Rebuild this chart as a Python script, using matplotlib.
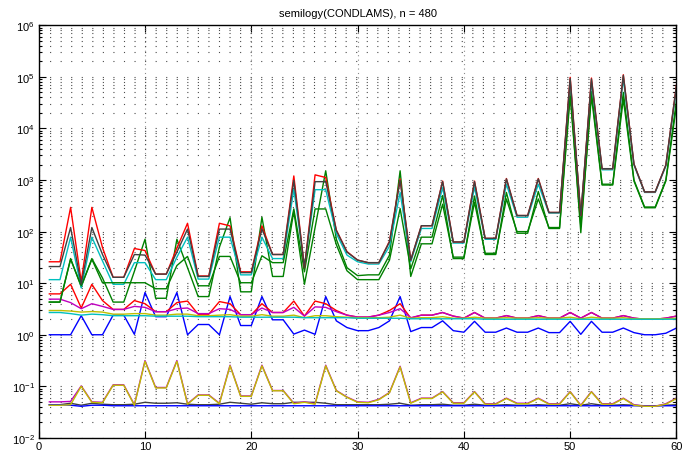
import numpy as np
import matplotlib
matplotlib.use('Agg')
import matplotlib.pyplot as plt
from matplotlib.ticker import LogLocator, NullFormatter

plt.rcParams['font.family'] = ['Liberation Sans', 'DejaVu Sans']

x = np.arange(1, 61)

# --- upper family (large condition numbers) ---
red_hi = [26, 26, 295, 10.7, 295, 49, 13, 13, 47, 43,
          15, 15, 48, 145, 13.8, 13.8, 145, 129, 16.6, 16.6,
          129, 36, 36, 1200, 20, 1260, 1120, 107, 41, 28,
          25, 25, 65, 1050, 28, 130, 130, 955, 63, 63,
          955, 74, 74, 1070, 205, 205, 1070, 235, 235, 98000,
          205, 95000, 1660, 1660, 110000, 2040, 590, 590, 1950, 69000]
black_hi = [21, 21, 120, 9.5, 120, 36, 13, 13, 36, 35,
            15, 15, 40, 112, 13.5, 13.5, 112, 112, 16, 16,
            112, 36, 36, 980, 20, 930, 930, 105, 40, 28,
            25, 25, 63, 980, 28, 130, 130, 930, 63, 63,
            930, 74, 74, 1050, 205, 205, 1050, 235, 235, 93000,
            205, 91000, 1660, 1660, 107000, 2040, 590, 590, 1950, 68000]
cyan_hi = [11.7, 11.7, 78, 8.1, 78, 27, 9.5, 9.5, 25, 25,
           11.7, 11.7, 32, 78, 12, 12, 78, 78, 14.5, 14.5,
           78, 30, 30, 660, 21, 650, 650, 91, 35, 26,
           23.5, 23.5, 52, 575, 26, 115, 115, 710, 60, 60,
           725, 71, 71, 830, 190, 190, 830, 229, 229, 79000,
           200, 79000, 1580, 1580, 91000, 1950, 575, 575, 1860, 60000]
green_a = [4.3, 4.3, 30, 8.5, 30, 12.6, 4.3, 4.3, 17, 71,
           5.1, 5.1, 71, 20, 5.5, 5.5, 50, 186, 6.8, 6.8,
           190, 13.5, 13.5, 250, 9.5, 120, 1510, 71, 20, 14,
           14.5, 14.5, 35, 1510, 13.5, 58, 58, 340, 32, 32,
           370, 38, 38, 430, 100, 100, 430, 120, 120, 56000,
           95, 52000, 830, 830, 50000, 1000, 300, 300, 1000, 35000]
green_b = [4.3, 4.3, 29, 8.9, 29, 10.2, 10.2, 10.2, 10.2, 10.2,
           7.8, 7.8, 22, 33, 8.9, 8.9, 33, 33, 10.2, 10.2,
           34, 25, 25, 275, 16.6, 275, 275, 56, 17.4, 11.7,
           11.7, 11.7, 28, 280, 19, 78, 78, 500, 30, 30,
           490, 36, 36, 575, 93, 93, 600, 115, 115, 42000,
           126, 42000, 800, 800, 37000, 955, 290, 290, 955, 28000]

# --- middle family (values around 1..10) ---
blue_mid = [1.0, 1.0, 1.0, 2.34, 1.0, 1.0, 2.4, 2.4, 1.02, 6.6,
            2.24, 2.24, 6.6, 1.0, 1.58, 1.58, 1.0, 5.5, 1.51, 1.51,
            5.5, 1.95, 1.95, 1.03, 1.23, 1.02, 5.5, 1.86, 1.38, 1.2,
            1.2, 1.38, 1.86, 5.5, 1.15, 1.38, 1.38, 1.86, 1.2, 1.12,
            1.82, 1.12, 1.12, 1.35, 1.12, 1.12, 1.35, 1.1, 1.1, 1.82,
            1.02, 1.82, 1.12, 1.12, 1.35, 1.1, 1.0, 1.0, 1.07, 1.35]
red_mid = [6.2, 6.2, 9.5, 3.3, 9.5, 4.6, 3.1, 3.1, 4.6, 4.0,
           2.8, 2.8, 4.2, 4.5, 2.5, 2.5, 4.4, 4.0, 2.45, 2.45,
           4.0, 2.7, 2.7, 4.5, 2.3, 4.5, 4.0, 2.95, 2.4, 2.2,
           2.2, 2.4, 2.95, 4.0, 2.1, 2.4, 2.4, 2.7, 2.3, 2.1,
           2.7, 2.1, 2.1, 2.35, 2.1, 2.1, 2.35, 2.1, 2.1, 2.7,
           2.1, 2.7, 2.1, 2.1, 2.35, 2.1, 2.0, 2.0, 2.1, 2.3]
magenta_mid = [4.9, 4.9, 4.2, 3.2, 4.0, 3.55, 3.1, 3.1, 3.55, 3.4,
               2.8, 2.8, 3.2, 3.3, 2.57, 2.57, 3.2, 3.1, 2.45, 2.45,
               3.3, 2.7, 2.7, 3.4, 2.3, 3.47, 3.4, 2.8, 2.4, 2.2,
               2.2, 2.4, 2.7, 3.2, 2.14, 2.4, 2.4, 2.7, 2.3, 2.1,
               2.7, 2.1, 2.1, 2.35, 2.1, 2.1, 2.35, 2.1, 2.1, 2.7,
               2.1, 2.7, 2.1, 2.1, 2.35, 2.1, 2.0, 2.0, 2.1, 2.3]
yellow_mid = [2.95, 2.95, 2.88, 2.75, 2.82, 2.75, 2.51, 2.51, 2.57, 2.57,
              2.40, 2.40, 2.51, 2.51, 2.34, 2.34, 2.40, 2.45, 2.29, 2.29,
              2.45, 2.29, 2.29, 2.40, 2.14, 2.34, 2.34, 2.24, 2.19, 2.14,
              2.14, 2.14, 2.19, 2.40, 2.09, 2.14, 2.14, 2.24, 2.09, 2.09,
              2.19, 2.09, 2.09, 2.14, 2.09, 2.09, 2.14, 2.09, 2.09, 2.19,
              2.04, 2.19, 2.09, 2.09, 2.14, 2.04, 2.04, 2.04, 2.04, 2.09]
cyan_mid = [2.7, 2.7, 2.57, 2.40, 2.51, 2.45, 2.34, 2.34, 2.34, 2.34,
            2.29, 2.29, 2.29, 2.29, 2.24, 2.24, 2.24, 2.24, 2.19, 2.19,
            2.19, 2.19, 2.19, 2.19, 2.14, 2.14, 2.14, 2.14, 2.14, 2.09,
            2.09, 2.09, 2.09, 2.09, 2.04, 2.04, 2.04, 2.04, 2.04, 2.04,
            2.04, 2.0, 2.0, 2.0, 2.0, 2.0, 2.0, 2.0, 2.0, 2.0,
            2.0, 2.0, 2.0, 2.0, 2.0, 2.0, 2.0, 2.0, 2.0, 2.0]

# --- lower family (values around 0.04..0.3) ---
magenta_lo = [0.050, 0.050, 0.051, 0.102, 0.050, 0.049, 0.107, 0.107, 0.044, 0.316,
              0.095, 0.095, 0.316, 0.046, 0.068, 0.068, 0.047, 0.257, 0.065, 0.065,
              0.257, 0.083, 0.083, 0.047, 0.050, 0.046, 0.257, 0.083, 0.062, 0.050,
              0.049, 0.056, 0.076, 0.245, 0.048, 0.059, 0.059, 0.079, 0.048, 0.048,
              0.079, 0.046, 0.046, 0.059, 0.047, 0.047, 0.059, 0.046, 0.046, 0.079,
              0.043, 0.079, 0.046, 0.046, 0.059, 0.044, 0.041, 0.041, 0.046, 0.059]
yellow_lo = [0.043, 0.043, 0.044, 0.100, 0.049, 0.048, 0.105, 0.105, 0.043, 0.305,
             0.093, 0.093, 0.305, 0.045, 0.067, 0.067, 0.046, 0.250, 0.064, 0.064,
             0.250, 0.082, 0.082, 0.046, 0.049, 0.045, 0.250, 0.082, 0.061, 0.049,
             0.048, 0.055, 0.075, 0.238, 0.047, 0.058, 0.058, 0.078, 0.047, 0.047,
             0.078, 0.045, 0.045, 0.058, 0.046, 0.046, 0.058, 0.045, 0.045, 0.078,
             0.042, 0.078, 0.045, 0.045, 0.058, 0.043, 0.041, 0.041, 0.045, 0.058]
black_lo = [0.044, 0.044, 0.047, 0.043, 0.047, 0.045, 0.044, 0.044, 0.045, 0.049,
            0.047, 0.047, 0.048, 0.045, 0.044, 0.044, 0.045, 0.049, 0.047, 0.045,
            0.048, 0.046, 0.046, 0.049, 0.049, 0.049, 0.047, 0.044, 0.044, 0.044,
            0.044, 0.044, 0.045, 0.047, 0.043, 0.044, 0.044, 0.045, 0.043, 0.043,
            0.045, 0.043, 0.043, 0.044, 0.043, 0.043, 0.044, 0.043, 0.043, 0.046,
            0.043, 0.046, 0.043, 0.043, 0.044, 0.043, 0.042, 0.042, 0.043, 0.044]
blue_lo = [0.044, 0.044, 0.043, 0.041, 0.043, 0.043, 0.042, 0.042, 0.042, 0.042,
           0.042, 0.042, 0.042, 0.042, 0.042, 0.042, 0.042, 0.042, 0.042, 0.042,
           0.042, 0.042, 0.042, 0.042, 0.042, 0.042, 0.042, 0.042, 0.042, 0.042,
           0.042, 0.042, 0.042, 0.042, 0.042, 0.042, 0.042, 0.042, 0.042, 0.042,
           0.042, 0.042, 0.042, 0.042, 0.042, 0.042, 0.042, 0.042, 0.042, 0.042,
           0.042, 0.042, 0.042, 0.042, 0.042, 0.042, 0.042, 0.042, 0.042, 0.042]

# old matlab colour order
B = (0, 0, 1)
G = (0, 0.5, 0)
R = (1, 0, 0)
C = (0, 0.75, 0.75)
M = (0.75, 0, 0.75)
Y = (0.75, 0.75, 0)
K = (0.25, 0.25, 0.25)

series = [
    (blue_mid, B), (green_a, G), (red_mid, R), (cyan_hi, C),
    (magenta_mid, M), (yellow_mid, Y), (black_lo, K),
    (blue_lo, B), (green_b, G), (red_hi, R), (cyan_mid, C),
    (magenta_lo, M), (yellow_lo, Y), (black_hi, K),
]

fig = plt.figure(figsize=(6.84, 4.56), dpi=100)
ax = fig.add_axes([0.0566, 0.0375, 0.9324, 0.9048])

for vals, col in series:
    ax.semilogy(x, vals, color=col, lw=1.0)

ax.set_xlim(0, 60)
ax.set_ylim(1e-2, 1e6)
ax.set_xticks(range(0, 61, 10))
ax.yaxis.set_major_locator(LogLocator(base=10, numticks=10))
ax.yaxis.set_minor_locator(LogLocator(base=10, subs=np.arange(2, 10), numticks=100))
ax.yaxis.set_minor_formatter(NullFormatter())

ax.set_axisbelow(True)
ax.grid(which='both', axis='y', color='0.3', lw=0.8, linestyle=(0, (1, 8.5)))
ax.grid(which='major', axis='x', color='0.55', lw=0.8, linestyle=(0, (1, 3)))

ax.tick_params(which='both', direction='in', top=True, right=True, labelsize=8, width=0.8)
ax.tick_params(which='major', length=5)
ax.tick_params(which='minor', length=2.5)
ax.tick_params(axis='x', which='major', pad=2)
ax.tick_params(axis='y', which='major', pad=3)
for s in ax.spines.values():
    s.set_linewidth(1.0)

ax.set_title('semilogy(CONDLAMS), n = 480', fontsize=8, pad=7)

fig.savefig('out.png', dpi=100)
